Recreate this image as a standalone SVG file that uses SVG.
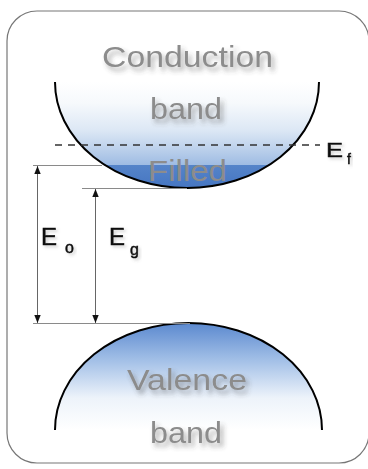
<svg xmlns="http://www.w3.org/2000/svg" width="368" height="469" viewBox="0 0 368 469">
<defs>
<linearGradient id="gc" x1="0" y1="82" x2="0" y2="188" gradientUnits="userSpaceOnUse">
<stop offset="0" stop-color="#ffffff"/>
<stop offset="0.2" stop-color="#f6f9fc"/>
<stop offset="0.45" stop-color="#dde8f5"/>
<stop offset="0.6" stop-color="#c2d5ed"/>
<stop offset="0.78" stop-color="#9fbce3"/>
<stop offset="0.78" stop-color="#5584c9"/>
<stop offset="1" stop-color="#4676c2"/>
</linearGradient>
<linearGradient id="gv" x1="0" y1="323" x2="0" y2="430" gradientUnits="userSpaceOnUse">
<stop offset="0" stop-color="#5b89cf"/>
<stop offset="0.35" stop-color="#a3c0e7"/>
<stop offset="0.7" stop-color="#edf3fa"/>
<stop offset="1" stop-color="#ffffff"/>
</linearGradient>
<filter id="sh" x="-20%" y="-30%" width="140%" height="170%">
<feDropShadow dx="3" dy="4" stdDeviation="2.5" flood-color="#444" flood-opacity="0.45"/>
</filter>
<filter id="sh2" x="-30%" y="-30%" width="160%" height="170%">
<feDropShadow dx="2" dy="2" stdDeviation="1.5" flood-color="#666" flood-opacity="0.3"/>
</filter>
<marker id="ah" viewBox="0 0 8 8" refX="8" refY="4" markerWidth="8" markerHeight="8" markerUnits="userSpaceOnUse" orient="auto-start-reverse">
<path d="M0,0.8 L8,4 L0,7.2 Z" fill="#111"/>
</marker>
</defs>
<style>
.band{font-family:"Liberation Sans",Arial,sans-serif;font-size:30px;fill:#8c8c8c;filter:url(#sh)}
.lbl{font-family:"Liberation Sans",Arial,sans-serif;fill:#111;stroke:#111;stroke-width:0.5;filter:url(#sh2)}
.curve{stroke:#000;stroke-width:2}
.guide{stroke:#8a8a8a;stroke-width:1;fill:none}
.dim{stroke:#666;stroke-width:1;fill:none}
</style>
<rect x="7" y="11" width="362" height="452" rx="30" ry="30" fill="#fff" stroke="#777" stroke-width="1.2"/>
<g id="conduction-band">
<path class="curve" d="M55,82 A132,106 0 0 0 319,82" fill="url(#gc)"/>
<text class="band" x="187.5" y="67" text-anchor="middle" textLength="171" lengthAdjust="spacingAndGlyphs">Conduction</text>
<text class="band" x="186" y="119" text-anchor="middle" textLength="72" lengthAdjust="spacingAndGlyphs">band</text>
<text class="band" x="187.5" y="181" text-anchor="middle" textLength="79" lengthAdjust="spacingAndGlyphs" style="filter:none">Filled</text>
</g>
<g id="valence-band">
<path class="curve" d="M55,430 A133.5,107 0 0 1 322,430" fill="url(#gv)"/>
<text class="band" x="187" y="390" text-anchor="middle" textLength="120" lengthAdjust="spacingAndGlyphs">Valence</text>
<text class="band" x="186" y="443" text-anchor="middle" textLength="72" lengthAdjust="spacingAndGlyphs">band</text>
</g>
<g id="connectors">
<line x1="55" y1="145" x2="320" y2="145" stroke="#333" stroke-width="1.5" stroke-dasharray="7 6"/>
<line class="guide" x1="33" y1="165.5" x2="102" y2="165.5"/>
<line class="guide" x1="82" y1="188.5" x2="187" y2="188.5"/>
<line class="guide" x1="33" y1="323.5" x2="190" y2="323.5"/>
<line class="dim" x1="37.5" y1="166" x2="37.5" y2="323" marker-start="url(#ah)" marker-end="url(#ah)"/>
<line class="dim" x1="95.5" y1="189" x2="95.5" y2="323" marker-start="url(#ah)" marker-end="url(#ah)"/>
</g>
<g id="label-ef">
<text class="lbl" x="326" y="157" font-size="21" textLength="17" lengthAdjust="spacingAndGlyphs">E</text>
<text class="lbl" x="347" y="164" font-size="14">f</text>
</g>
<g id="label-eo">
<text class="lbl" x="41" y="245" font-size="24">E</text>
<text class="lbl" x="65" y="253" font-size="16">o</text>
</g>
<g id="label-eg">
<text class="lbl" x="109" y="245" font-size="24">E</text>
<text class="lbl" x="130" y="255" font-size="16">g</text>
</g>
</svg>
